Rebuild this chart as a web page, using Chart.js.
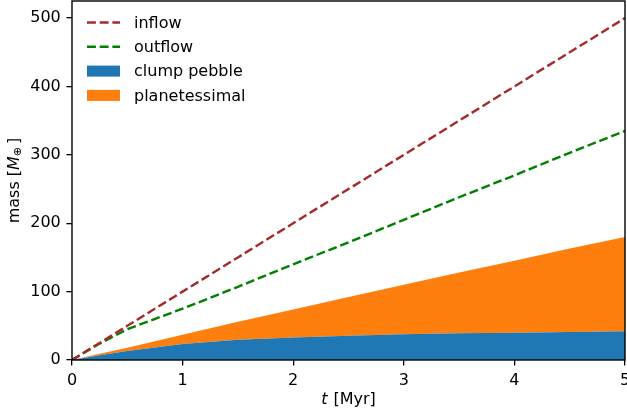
<!DOCTYPE html>
<html>
<head>
<meta charset="utf-8">
<script src="https://cdn.jsdelivr.net/npm/chart.js@4"></script>
<style>
  html, body { margin: 0; padding: 0; background: #fff; }
</style>
</head>
<body>
<canvas id="chart" width="627" height="418"></canvas>
<script>
// time in Myr, masses in Earth masses
const times = [0, 0.25, 0.5, 1, 1.5, 2, 2.5, 3, 3.5, 4, 4.5, 5];
const inflow = [0, 25, 50, 100, 150, 200, 250, 300, 350, 400, 450, 500];
const outflow = [0, 24, 45, 75, 107, 140, 172, 205, 238, 270, 303, 335];
const clumpPebble = [0, 7, 13, 23.5, 29.5, 33, 35.5, 37.5, 39, 40, 41, 42];
const planetesimal = [0, 2, 5, 13.5, 26.5, 41, 56.5, 72.5, 89, 105, 122, 138];
const xTicks = [0, 1, 2, 3, 4, 5];
const yTicks = [0, 100, 200, 300, 400, 500];

const FONT = "'DejaVu Sans', sans-serif";
const dash = [8.9, 3.8];

const pts = (ys) => times.map((t, i) => ({ x: t, y: ys[i] }));

// matplotlib style box around the axes
const frame = {
    id: 'frame',
    afterDraw(chart) {
        const { ctx, chartArea: a } = chart;
        ctx.save();
        ctx.strokeStyle = '#000';
        ctx.lineWidth = 1.4;
        ctx.strokeRect(a.left, a.top, a.right - a.left, a.bottom - a.top);
        ctx.restore();
    }
};

// legend drawn inside the axes, top left
const innerLegend = {
    id: 'innerLegend',
    afterDraw(chart) {
        const ctx = chart.ctx;
        ctx.save();
        ctx.font = '16px ' + FONT;
        ctx.textBaseline = 'middle';
        chart.data.datasets.forEach((ds, i) => {
            const y = 22.5 + i * 24.3;
            if (ds.fill) {
                ctx.fillStyle = ds.backgroundColor;
                ctx.fillRect(87, y - 5.5, 33, 11);
            } else {
                ctx.strokeStyle = ds.borderColor;
                ctx.lineWidth = ds.borderWidth;
                ctx.setLineDash(ds.borderDash);
                ctx.beginPath();
                ctx.moveTo(87, y);
                ctx.lineTo(120, y);
                ctx.stroke();
                ctx.setLineDash([]);
            }
            ctx.fillStyle = '#000';
            ctx.fillText(ds.label, 134, y + 1);
        });
        ctx.restore();
    }
};

// axis titles with italic symbols like mathtext
function drawParts(ctx, parts) {
    let w = 0;
    parts.forEach(p => { ctx.font = p.font; w += ctx.measureText(p.text).width + (p.gap || 0); });
    let x = -w / 2;
    parts.forEach(p => {
        ctx.font = p.font;
        ctx.fillText(p.text, x, p.dy || 0);
        x += ctx.measureText(p.text).width + (p.gap || 0);
    });
}

const axisTitles = {
    id: 'axisTitles',
    afterDraw(chart) {
        const { ctx, chartArea: a } = chart;
        ctx.save();
        ctx.fillStyle = '#000';
        ctx.textBaseline = 'middle';
        ctx.textAlign = 'left';
        ctx.translate((a.left + a.right) / 2, 400);
        drawParts(ctx, [
            { text: 't', font: 'italic 16px ' + FONT, gap: 1 },
            { text: ' [Myr]', font: '16px ' + FONT }
        ]);
        ctx.restore();

        ctx.save();
        ctx.fillStyle = '#000';
        ctx.textBaseline = 'middle';
        ctx.textAlign = 'left';
        ctx.translate(15, (a.top + a.bottom) / 2);
        ctx.rotate(-Math.PI / 2);
        drawParts(ctx, [
            { text: 'mass [', font: '16px ' + FONT },
            { text: 'M', font: 'italic 16px ' + FONT },
            { text: '\u2295', font: '11px ' + FONT, dy: 3.5, gap: 3 },
            { text: ']', font: '16px ' + FONT }
        ]);
        ctx.restore();
    }
};

const tickFont = { family: FONT, size: 16 };

new Chart(document.getElementById('chart').getContext('2d'), {
    type: 'line',
    data: {
        datasets: [
            {
                label: 'inflow',
                data: pts(inflow),
                stack: 'in',
                borderColor: '#a52a2a',
                borderWidth: 2.4,
                borderDash: dash,
                pointRadius: 0,
                fill: false,
            },
            {
                label: 'outflow',
                data: pts(outflow),
                stack: 'out',
                borderColor: '#008000',
                borderWidth: 2.4,
                borderDash: dash,
                pointRadius: 0,
                fill: false,
            },
            {
                label: 'clump pebble',
                data: pts(clumpPebble),
                stack: 'area',
                backgroundColor: '#1f77b4',
                borderWidth: 0,
                pointRadius: 0,
                fill: 'origin',
            },
            {
                label: 'planetessimal',
                data: pts(planetesimal),
                stack: 'area',
                backgroundColor: '#ff7f0e',
                borderWidth: 0,
                pointRadius: 0,
                fill: '-1',
            }
        ]
    },
    options: {
        responsive: false,
        devicePixelRatio: 1,
        animation: false,
        layout: { padding: { left: 30, right: 2, top: 1, bottom: 27 } },
        plugins: {
            legend: { display: false },
            tooltip: { enabled: false },
        },
        scales: {
            x: {
                type: 'linear',
                min: 0,
                max: 5,
                afterBuildTicks: s => { s.ticks = xTicks.map(v => ({ value: v })); },
                afterFit: s => { s.height = 31; s.paddingRight = 0; s.paddingLeft = 0; },
                border: { display: false },
                grid: {
                    drawOnChartArea: false,
                    drawTicks: true,
                    tickLength: 5.6,
                    color: '#000',
                    lineWidth: 1.3,
                },
                ticks: { font: tickFont, color: '#000', padding: 5.6, maxRotation: 0 },
            },
            y: {
                type: 'linear',
                stacked: true,
                min: 0,
                max: 525,
                afterBuildTicks: s => { s.ticks = yTicks.map(v => ({ value: v })); },
                afterFit: s => { s.width = 42; s.paddingTop = 0; s.paddingBottom = 0; },
                border: { display: false },
                grid: {
                    drawOnChartArea: false,
                    drawTicks: true,
                    tickLength: 5.6,
                    color: '#000',
                    lineWidth: 1.3,
                },
                ticks: { font: tickFont, color: '#000', padding: 5.6 },
            }
        }
    },
    plugins: [frame, innerLegend, axisTitles]
});
</script>
</body>
</html>
